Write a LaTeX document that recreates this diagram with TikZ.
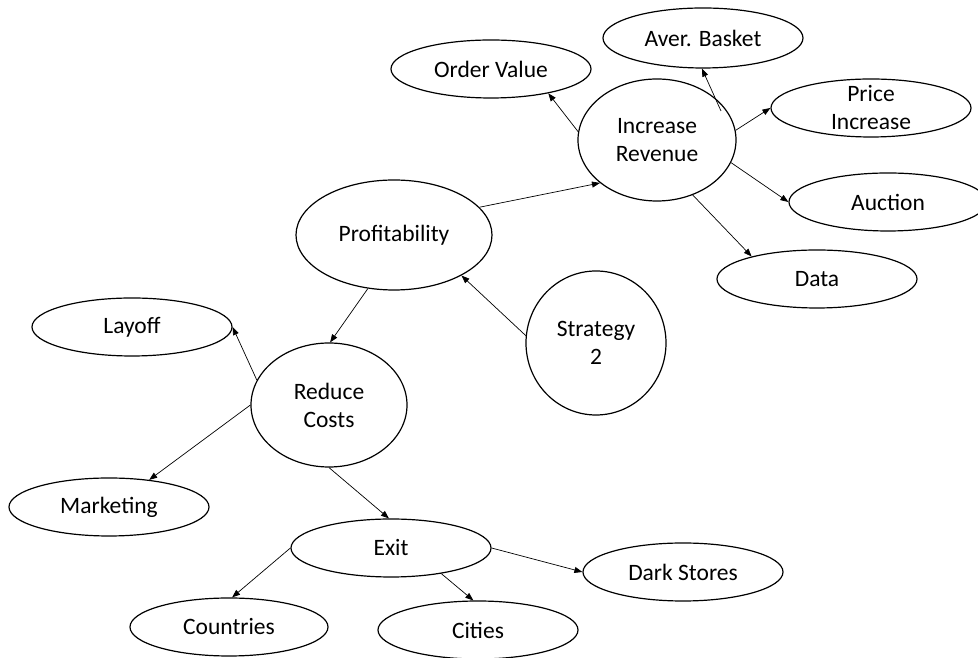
\documentclass[tikz,border=0pt]{standalone}
\usepackage{fontspec}
\setmainfont{Carlito}
\usetikzlibrary{shapes.geometric,arrows.meta}
\begin{document}
\begin{tikzpicture}[x=1pt,y=1pt,
  bubble/.style 2 args={draw, ellipse, line width=1.2pt, inner sep=0pt,
    minimum width=#1pt, minimum height=#2pt},
  txt/.style={font=\fontsize{23.5pt}{28pt}\selectfont, align=center, inner sep=0pt},
  conn/.style={line width=0.7pt, -{Triangle[length=8pt,width=6pt]}}]
\useasboundingbox (0,0) rectangle (978,658);

% revenue branch
\node[bubble={200}{58}, label={[txt]center:Order Value}]   (OV) at (491,589) {};
\node[bubble={200}{60}, label={[txt]center:Aver. Basket}]  (AB) at (703,620) {};
\node[bubble={158}{122}, label={[txt]center:Increase\\Revenue}] (IR) at (657,518) {};
\node[bubble={200}{58}, label={[txt]center:Price\\Increase}] (PI) at (871,550) {};
\node[bubble={198}{58}, label={[txt]center:Auction}]       (AU) at (888,456) {};
\node[bubble={200}{58}, label={[txt]center:Data}]          (DA) at (817,379) {};

% centre
\node[bubble={196}{110}, label={[txt]center:Profitability}] (PR) at (394,423) {};
\node[bubble={140}{144}, label={[txt]center:Strategy\\2}]   (ST) at (596,315) {};

% cost branch
\node[bubble={200}{58}, label={[txt]center:Layoff}]        (LA) at (132,331) {};
\node[bubble={156}{124}, label={[txt]center:Reduce\\Costs}] (RC) at (329,253) {};
\node[bubble={200}{58}, label={[txt]center:Marketing}]     (MA) at (109,151) {};
\node[bubble={200}{58}, label={[txt]center:Exit}]          (EX) at (391,110) {};
\node[bubble={198}{58}, label={[txt]center:Countries}]     (CO) at (229,31) {};
\node[bubble={200}{58}, label={[txt]center:Cities}]        (CI) at (478,28) {};
\node[bubble={200}{58}, label={[txt]center:Dark Stores}]   (DS) at (683,86) {};

\coordinate (abfoot) at (721,547);

% connectors
\draw[conn] (PR.18) -- (IR.217.7);
\draw[conn] (IR.174) -- (OV.-23.6);
\draw[conn] (abfoot) -- (AB.268);
\draw[conn] (IR.7) -- (PI.west);
\draw[conn] (IR.-17.7) -- (AU.west);
\draw[conn] (IR.-57.3) -- (DA.161.8);
\draw[conn] (ST.174.4) -- (PR.-31);
\draw[conn] (PR.244.3) -- (RC.89);
\draw[conn] (RC.161.3) -- (LA.east);
\draw[conn] (RC.west) -- (MA.34.6);
\draw[conn] (RC.south) -- (EX.94);
\draw[conn] (EX.west) -- (CO.84);
\draw[conn] (EX.-27) -- (CI.99.8);
\draw[conn] (EX.east) -- (DS.west);
\end{tikzpicture}
\end{document}
